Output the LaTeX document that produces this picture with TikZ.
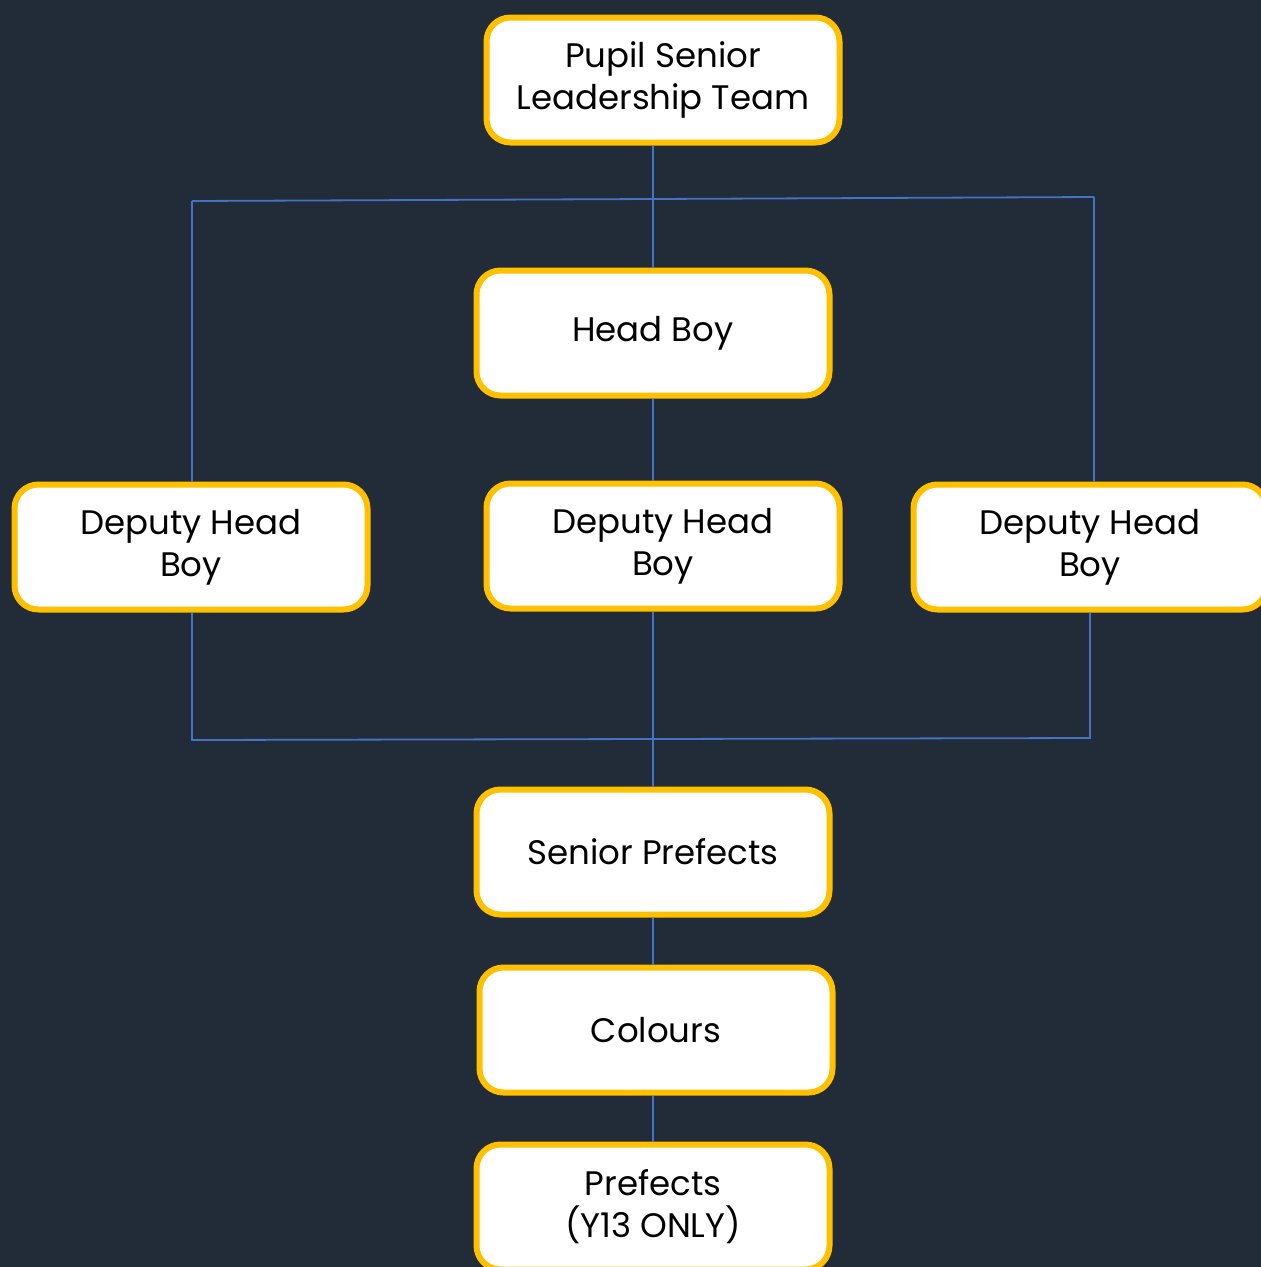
\documentclass[tikz,border=0pt]{standalone}
\usepackage{fontspec}
\setmainfont{Poppins}
\definecolor{bg}{HTML}{222B38}
\definecolor{gold}{HTML}{FFC000}
\definecolor{wire}{HTML}{4472C4}
\begin{document}
\begin{tikzpicture}[x=1pt,y=-1pt,
  rolebox/.style={draw=gold, line width=6pt, fill=white, rounded corners=24pt,
    minimum width=353pt, minimum height=125pt, align=center, inner sep=0pt,
    font=\fontsize{34}{42}\selectfont, text=black},
  wireline/.style={draw=wire, line width=1.8pt}]
\fill[bg] (0,0) rectangle (1261,1267);
\useasboundingbox (0,0) rectangle (1261,1267);
\node[rolebox] (pslt) at (663,80) {Pupil Senior\\Leadership Team};
\node[rolebox] (hb) at (653,333) {Head Boy};
\node[rolebox] (dl) at (191,547) {Deputy Head\\Boy};
\node[rolebox] (dm) at (663,546) {Deputy Head\\Boy};
\node[rolebox] (dr) at (1090,547) {Deputy Head\\Boy};
\node[rolebox] (sp) at (653,852) {Senior Prefects};
\node[rolebox] (col) at (656,1030) {Colours};
\node[rolebox] (pre) at (653,1207) {Prefects\\(Y13 ONLY)};
\coordinate (tl) at (192,201);
\coordinate (tm) at (653,199);
\coordinate (tr) at (1094,197);
\coordinate (bl) at (192,740);
\coordinate (bm) at (653,739);
\coordinate (br) at (1090,738);
\draw[wireline] (hb.north |- pslt.south) -- (hb.north);
\draw[wireline] (tl) -- (tm) -- (tr);
\draw[wireline] (tl) -- (tl |- dl.north);
\draw[wireline] (tr) -- (tr |- dr.north);
\draw[wireline] (hb.south) -- (hb.south |- dm.north);
\draw[wireline] (bl |- dl.south) -- (bl) -- (bm) -- (br) -- (br |- dr.south);
\draw[wireline] (bm |- dm.south) -- (bm) -- (sp.north);
\draw[wireline] (sp.south) -- (sp.south |- col.north);
\draw[wireline] (sp.south |- col.south) -- (sp.south |- pre.north);
\end{tikzpicture}
\end{document}
